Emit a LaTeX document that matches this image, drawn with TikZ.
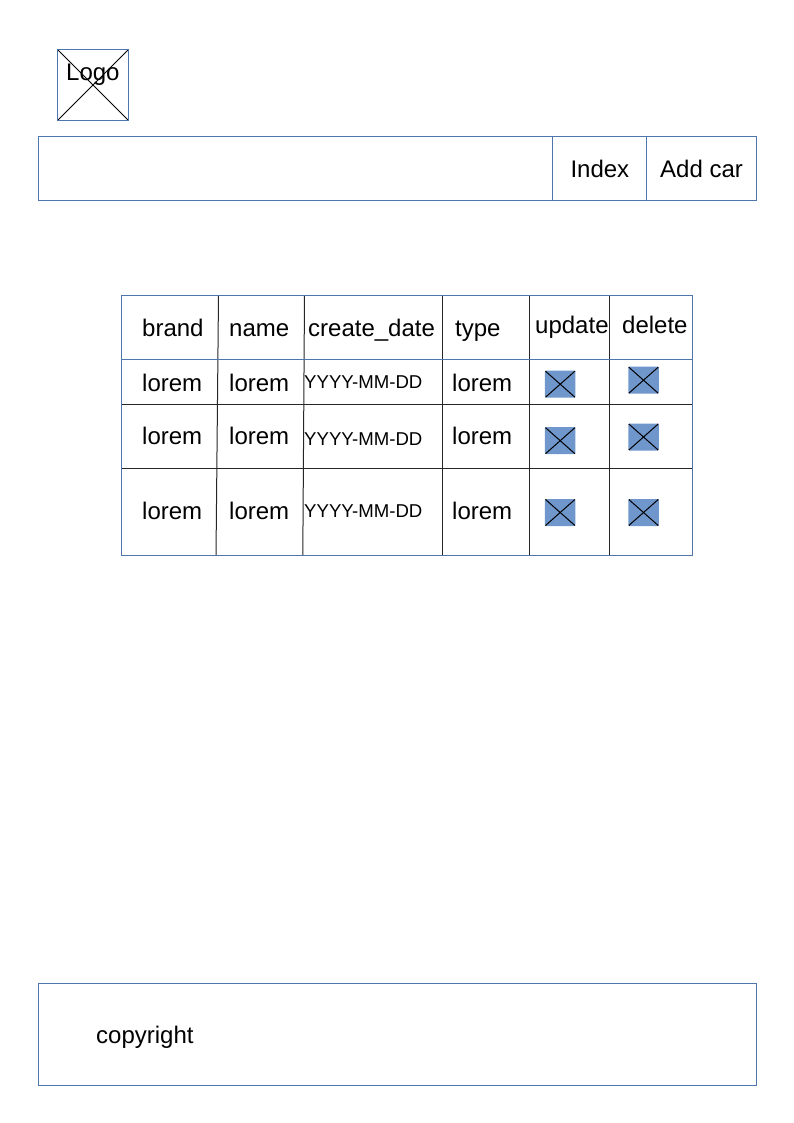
\documentclass[tikz,border=0pt]{standalone}
\usepackage{fontspec}
\setmainfont{Liberation Sans}
\definecolor{wireblue}{HTML}{4F76AC}
\definecolor{btnblue}{HTML}{6F97CC}
\tikzset{
  wire/.style={draw=wireblue,line width=1pt},
  grid/.style={draw=black!85,line width=1pt},
  txt/.style={anchor=base west,inner sep=0pt,font=\fontsize{24}{24}\selectfont},
  datetxt/.style={anchor=base west,inner sep=0pt,font=\fontsize{18.6}{18.6}\selectfont},
  crossed/.style={inner sep=0pt,path picture={
    \draw[black,line width=1pt] (path picture bounding box.north west) -- (path picture bounding box.south east);
    \draw[black,line width=1pt] (path picture bounding box.north east) -- (path picture bounding box.south west);}},
  btnbox/.style={crossed,fill=btnblue,rounded corners=1pt,minimum width=30.5pt,minimum height=27pt},
}
\begin{document}
\begin{tikzpicture}[x=1pt,y=-1pt]
  \useasboundingbox (0,0) rectangle (794,1123);

  % logo
  \node[crossed,wire,minimum size=71.5pt] (logo) at (93,85) {};
  \node[txt] (logotxt) at (66,80.5) {Logo};

  % nav bar
  \draw[wire] (38.5,136.5) rectangle (756.5,200.5);
  \draw[wire] (552.3,136.5) -- (552.3,200.5);% left of index
  \draw[wire] (646.8,136.5) -- (646.8,200.5);% left of add car
  \node[txt] (index) at (570.3,177.4) {Index};
  \node[txt] (addcar) at (660,177.4) {Add car};

  % table lines
  \draw[grid] (218.5,295) -- (216,555.9);% brand
  \draw[grid] (304.5,295) -- (302.8,555.9);% name
  \draw[grid] (442.6,295) -- (442.6,555.9);% create_date
  \draw[grid] (529.3,295) -- (529.3,555.9);% type
  \draw[grid] (609,295) -- (609,555.9);% update
  \draw[wire] (121.5,359) -- (692,359);% head
  \draw[grid] (121.5,404.8) -- (692,404.8);% first row
  \draw[grid] (121.5,468.8) -- (692,468.8);% second row
  \draw[wire] (121.5,295) rectangle (692,555.9);

  % table head
  \node[txt] (brand) at (142,336) {brand};
  \node[txt] (name) at (229,336) {name};
  \node[txt] (createdate) at (308,336) {create\_date};
  \node[txt] (type) at (455,336) {type};
  \node[txt] (update) at (535,333.6) {update};
  \node[txt] (delete) at (622,333.2) {delete};

  % first row
  \node[txt] (brandA) at (142,391) {lorem};
  \node[txt] (nameA) at (229,391) {lorem};
  \node[datetxt] (dateA) at (304,388.7) {YYYY-MM-DD};
  \node[txt] (typeA) at (452,391) {lorem};
  \node[btnbox] (updateA) at (560.2,384.2) {};
  \node[btnbox] (deleteA) at (643.5,380.2) {};

  % second row
  \node[txt] (brandB) at (142,444) {lorem};
  \node[txt] (nameB) at (229,444) {lorem};
  \node[datetxt] (dateB) at (304,445.3) {YYYY-MM-DD};
  \node[txt] (typeB) at (452,444) {lorem};
  \node[btnbox] (updateB) at (560.2,440.7) {};
  \node[btnbox] (deleteB) at (643.5,437) {};

  % third row
  \node[txt] (brandC) at (142,519) {lorem};
  \node[txt] (nameC) at (229,519) {lorem};
  \node[datetxt] (dateC) at (304,517) {YYYY-MM-DD};
  \node[txt] (typeC) at (452,519) {lorem};
  \node[btnbox] (updateC) at (560.2,512.5) {};
  \node[btnbox] (deleteC) at (643.5,512.5) {};

  % footer
  \draw[wire] (38.5,983) rectangle (756.5,1085);
  \node[txt] (copyright) at (96,1043) {copyright};
\end{tikzpicture}
\end{document}
